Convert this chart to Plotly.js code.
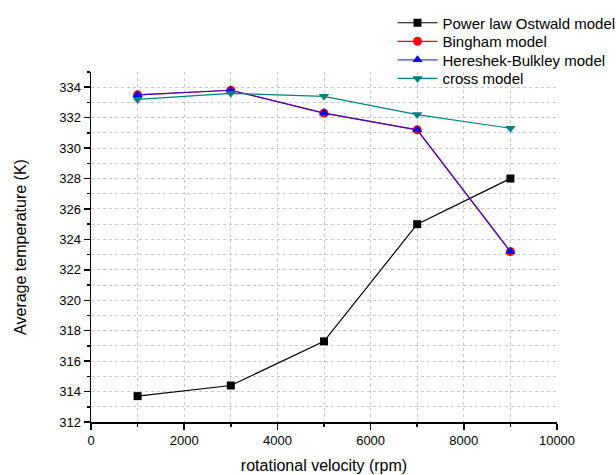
<!DOCTYPE html>
<html><head><meta charset="utf-8">
<script src="https://cdn.plot.ly/plotly-3.0.1.min.js"></script>
<style>body{margin:0;background:#fff}#c{width:616px;height:475px}</style>
</head><body><div id="c"></div>
<script>
const rpm = [1000, 3000, 5000, 7000, 9000];
const powerLaw = [313.7, 314.4, 317.3, 325.0, 328.0];
const bingham = [333.5, 333.8, 332.3, 331.2, 323.2];
const hereshek = [333.5, 333.8, 332.3, 331.2, 323.2];
const cross = [333.2, 333.6, 333.4, 332.2, 331.3];
const xTicks = [0, 2000, 4000, 6000, 8000, 10000];
const xTickText = ['0', '2000', '4000', '6000', '8000', '10000'];

const traces = [
  {x: rpm, y: powerLaw, name: 'Power law Ostwald model', mode: 'lines+markers', legend: 'legend',
   line: {color: '#000', width: 1.2}, marker: {symbol: 'square', size: 8, color: '#000'}},
  {x: rpm, y: bingham, name: 'Bingham model', mode: 'lines+markers', legend: 'legend2',
   line: {color: '#ff0000', width: 1.2}, marker: {symbol: 'circle', size: 9, color: '#ff0000'}},
  {x: rpm, y: hereshek, name: 'Hereshek-Bulkley model', mode: 'lines+markers', legend: 'legend3',
   line: {color: 'rgba(0,0,255,0.75)', width: 1.2}, marker: {symbol: 'triangle-up', size: 9, color: '#0000ff'}},
  {x: rpm, y: cross, name: 'cross model', mode: 'lines+markers', legend: 'legend4',
   line: {color: '#008080', width: 1.2}, marker: {symbol: 'triangle-down', size: 9, color: '#008080'}}
];

const gridStyle = {showgrid: true, gridcolor: '#c8c8c8', griddash: 'dot', gridwidth: 1};
function leg(y) {
  return {x: 0.647, y: y, xanchor: 'left', yanchor: 'middle', font: {size: 15},
    bgcolor: 'rgba(0,0,0,0)', itemwidth: 40};
}

const layout = {
  width: 616, height: 475,
  margin: {l: 91, r: 59, t: 72, b: 53, autoexpand: false},
  paper_bgcolor: '#fff', plot_bgcolor: '#fff',
  font: {family: 'Liberation Sans, Arial, sans-serif', color: '#000', size: 13},
  showlegend: true,
  legend: leg(1.14), legend2: leg(1.087), legend3: leg(1.034), legend4: leg(0.981),
  xaxis: Object.assign({
    range: [0, 10000], tickmode: 'array', tickvals: xTicks, ticktext: xTickText,
    ticks: 'outside', ticklen: 6, tickwidth: 1.5, tickcolor: '#000',
    showline: true, linecolor: '#000', linewidth: 1.5, zeroline: false,
    minor: {dtick: 1000, tick0: 0, ticks: 'outside', ticklen: 3, tickcolor: '#000', showgrid: true, gridcolor: '#c8c8c8', griddash: 'dot'},
    title: {text: 'rotational velocity (rpm)', font: {size: 16}, standoff: 12},
    tickfont: {size: 13}
  }, gridStyle),
  yaxis: Object.assign({
    range: [312, 335], tick0: 312, dtick: 2,
    ticks: 'outside', ticklen: 6, tickwidth: 1.5, tickcolor: '#000',
    showline: true, linecolor: '#000', linewidth: 1.5, zeroline: false,
    minor: {dtick: 1, tick0: 312, ticks: 'outside', ticklen: 3, tickcolor: '#000', showgrid: true, gridcolor: '#c8c8c8', griddash: 'dot'},
    title: {text: 'Average temperature (K)', font: {size: 16}, standoff: 28},
    tickfont: {size: 13}
  }, gridStyle)
};

Plotly.newPlot('c', traces, layout, {displayModeBar: false, staticPlot: true});
</script></body></html>
